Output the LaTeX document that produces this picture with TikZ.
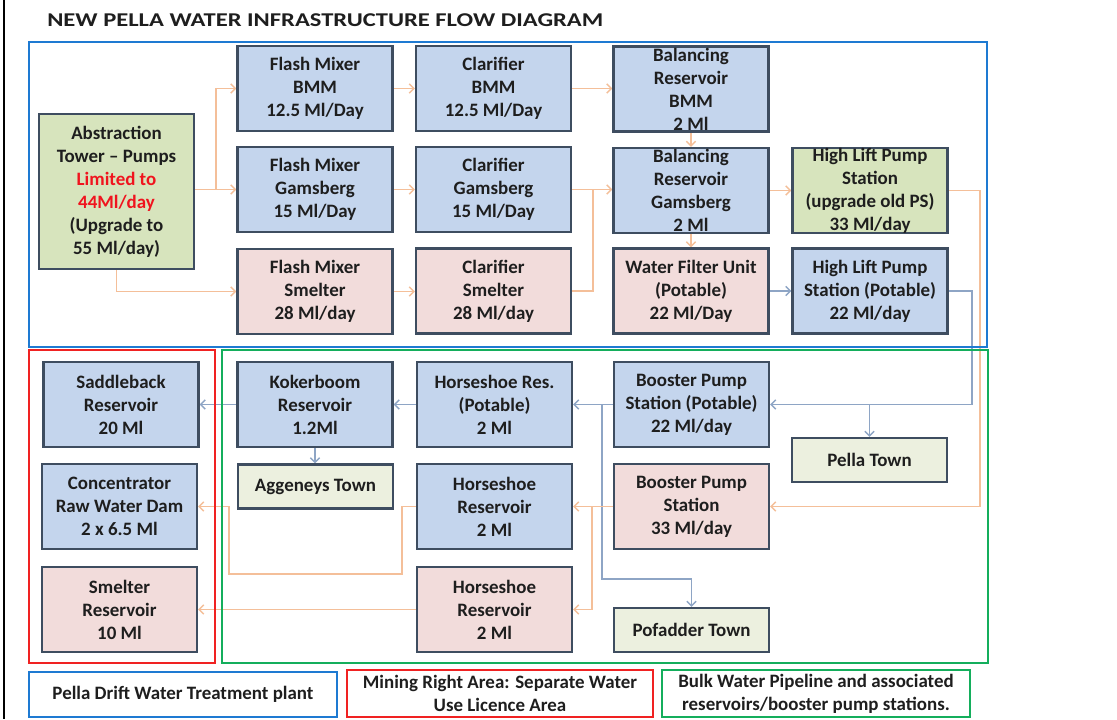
\documentclass[tikz,border=0pt]{standalone}
\usepackage{fontspec}
\setmainfont{Carlito}
\usetikzlibrary{arrows.meta}
\definecolor{bluef}{HTML}{C4D5ED}
\definecolor{pinkf}{HTML}{F2DCDB}
\definecolor{greenf}{HTML}{D7E4BD}
\definecolor{townf}{HTML}{ECF0DF}
\definecolor{bordc}{HTML}{3E4D60}
\definecolor{orl}{HTML}{F4BF99}
\definecolor{bll}{HTML}{8EA5C5}
\definecolor{frb}{HTML}{1E7AD2}
\definecolor{frr}{HTML}{F02222}
\definecolor{frg}{HTML}{14AE5C}
\definecolor{redt}{HTML}{F0141E}
\definecolor{txt}{HTML}{1E1E1E}
\pgfdeclarelayer{bgl}
\pgfdeclarelayer{conl}
\pgfsetlayers{bgl,conl,main}
\begin{document}
\begin{tikzpicture}[x=0.75pt,y=-0.75pt,
 box/.style={draw=bordc, line width=1.6pt, align=center, text=txt, font=\bfseries\fontsize{14.2}{17.2}\selectfont, inner sep=0pt, minimum width=116.25pt, minimum height=63.75pt},
 bl/.style={box, fill=bluef},
 pk/.style={box, fill=pinkf},
 gr/.style={box, fill=greenf},
 tw/.style={box, fill=townf, minimum height=33pt},
 tight/.style={inner ysep=-4pt},
 oarr/.style={draw=orl, line width=1.1pt, -{Straight Barb[length=3.5pt,width=7pt]}},
 oline/.style={draw=orl, line width=1.1pt},
 barr/.style={draw=bll, line width=1.1pt, -{Straight Barb[length=3.5pt,width=7pt]}},
 bline/.style={draw=bll, line width=1.1pt},
 frame/.style={line width=1.6pt},
 legend/.style={frame, align=center, text=txt, font=\bfseries\fontsize{14.2}{17.2}\selectfont, inner sep=0pt, minimum width=231pt},
]
\begin{pgfonlayer}{bgl}
\fill[white] (0,0) rectangle (1117,719);
\end{pgfonlayer}
\useasboundingbox (0,0) rectangle (1117,719);
\draw[black, line width=1.6pt] (4,0) -- (4,719);

% title
\node[anchor=base west, inner sep=0pt, text=txt] (title) at (47,26) {\resizebox{417pt}{9.6pt}{\bfseries NEW PELLA WATER INFRASTRUCTURE FLOW DIAGRAM}};

% frames
\draw[frame, draw=frb] (29,42) rectangle (987,347);
\draw[frame, draw=frr] (29,350) rectangle (215,663);
\draw[frame, draw=frg] (222,350) rectangle (988,663);

% top section
\node[gr, minimum height=116.25pt] (abs) at (116.5,191.5) {Abstraction\\Tower -- Pumps\\\textcolor{redt}{Limited to}\\\textcolor{redt}{44Ml/day}\\(Upgrade to\\55 Ml/day)};
\node[bl] (fmb) at (315,88.5) {Flash Mixer\\BMM\\12.5 Ml/Day};
\node[bl] (fmg) at (315,189.5) {Flash Mixer\\Gamsberg\\15 Ml/Day};
\node[pk] (fms) at (315,291.5) {Flash Mixer\\Smelter\\28 Ml/day};
\node[bl] (clb) at (493.5,88.5) {Clarifier\\BMM\\12.5 Ml/Day};
\node[bl] (clg) at (493.5,189.5) {Clarifier\\Gamsberg\\15 Ml/Day};
\node[pk] (cls) at (493.5,291) {Clarifier\\Smelter\\28 Ml/day};
\node[bl, tight] (bb) at (691,89) {Balancing\\Reservoir\\BMM\\2 Ml};
\node[bl, tight] (bg) at (691,190.5) {Balancing\\Reservoir\\Gamsberg\\2 Ml};
\node[pk] (wf) at (691,291) {Water Filter Unit\\(Potable)\\22 Ml/Day};
\node[gr, tight] (hlu) at (870,190.5) {High Lift Pump\\Station\\(upgrade old PS)\\33 Ml/day};
\node[bl] (hlp) at (870,291) {High Lift Pump\\Station (Potable)\\22 Ml/day};

% bottom section
\node[bl] (sad) at (121,404.5) {Saddleback\\Reservoir\\20 Ml};
\node[bl] (con) at (119.5,506.5) {Concentrator\\Raw Water Dam\\2 x 6.5 Ml};
\node[pk] (smr) at (119.5,609.5) {Smelter\\Reservoir\\10 Ml};
\node[bl] (kok) at (315,404.5) {Kokerboom\\Reservoir\\1.2Ml};
\node[tw] (agg) at (315.5,486.5) {Aggeneys Town};
\node[bl] (hrp) at (494.5,404.5) {Horseshoe Res.\\(Potable)\\2 Ml};
\node[bl] (hrb) at (494.5,506.5) {Horseshoe\\Reservoir\\2 Ml};
\node[pk] (hrs) at (494.5,609.5) {Horseshoe\\Reservoir\\2 Ml};
\node[bl] (bpp) at (691.5,404.5) {Booster Pump\\Station (Potable)\\22 Ml/day};
\node[pk] (bps) at (691.5,506.5) {Booster Pump\\Station\\33 Ml/day};
\node[tw] (pof) at (691.5,630) {Pofadder Town};
\node[tw] (pel) at (869.5,460) {Pella Town};

% legend
\node[legend, draw=frb, minimum height=33.75pt] (lgb) at (183,694.5) {Pella Drift Water Treatment plant};
\node[legend, draw=frr, minimum width=229.5pt, minimum height=35.25pt] (lgr) at (500,693.5) {Mining Right Area: Separate Water\\Use Licence Area};
\node[legend, draw=frg, minimum height=35.25pt] (lgg) at (816,693.5) {Bulk Water Pipeline and associated\\reservoirs/booster pump stations.};

% connectors
\begin{pgfonlayer}{conl}
\coordinate (j1) at (216,189.5);
\draw[oline] (abs.east |- j1) -- (j1);
\draw[oarr] (j1) |- (fmb.west);
\draw[oarr] (j1) -- (fmg.west);
\draw[oarr] (abs.south) |- (fms.west);
\draw[oarr] (fmb) -- (clb);
\draw[oarr] (fmg) -- (clg);
\draw[oarr] (fms.east) -- (fms.east -| cls.west);
\draw[oarr] (clb.east) -- (clb.east -| bb.west);
\coordinate (j2) at (593,189.5);
\draw[oline] (cls.east) -| (j2);
\draw[oarr] (clg.east) -- (clg.east -| bg.west);
\draw[oarr] (bb) -- (bg);
\draw[oarr] (bg) -- (wf);
\draw[oarr] (bg) -- (hlu);
\draw[barr] (wf) -- (hlp);
\coordinate (r1) at (980,506.5);
\draw[oarr] (hlu.east) -| (r1) -- (bps.east);
\coordinate (r2) at (972,404.5);
\draw[barr] (hlp.east) -| (r2) -- (bpp.east);
\draw[barr] (pel.north |- bpp.east) -- (pel.north);
\draw[barr] (bpp) -- (hrp);
\coordinate (r3) at (602,404.5);
\coordinate (r4) at (602,579);
\draw[barr] (r3) -- (r4) -| (pof.north);
\draw[barr] (hrp) -- (kok);
\draw[barr] (kok.west) -- (kok.west -| sad.east);
\draw[barr] (kok.south) -- (kok.south |- agg.north);
\draw[oarr] (bps) -- (hrb);
\coordinate (r5) at (592,506.5);
\draw[oarr] (r5) |- (hrs.east);
\coordinate (l1) at (402,506.5);
\coordinate (l2) at (402,574);
\coordinate (l3) at (229,574);
\coordinate (l4) at (229,506.5);
\draw[oarr] (hrb.west) -- (l1) -- (l2) -- (l3) -- (l4) -- (con.east);
\draw[oarr] (hrs) -- (smr);
\end{pgfonlayer}
\end{tikzpicture}
\end{document}
